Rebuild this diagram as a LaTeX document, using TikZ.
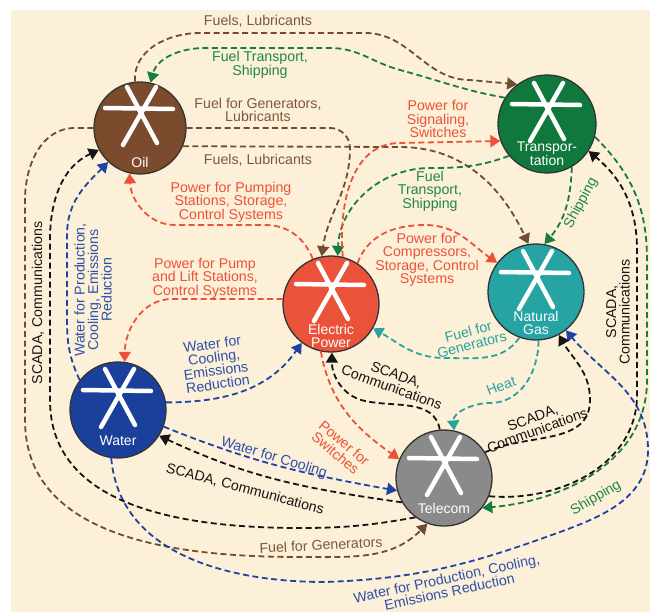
\documentclass[tikz,border=0pt]{standalone}
\usepackage{fontspec}
\setmainfont{Liberation Sans}
\usetikzlibrary{arrows.meta}
\definecolor{cream}{RGB}{253,240,216}
\definecolor{oilC}{RGB}{124,74,45}
\definecolor{trnC}{RGB}{16,120,60}
\definecolor{epC}{RGB}{234,82,58}
\definecolor{ngC}{RGB}{38,163,163}
\definecolor{watC}{RGB}{26,64,155}
\definecolor{telC}{RGB}{138,138,138}
\definecolor{brL}{RGB}{112,76,50}
\definecolor{brT}{RGB}{125,88,60}
\definecolor{grL}{RGB}{22,125,62}
\definecolor{grT}{RGB}{32,135,75}
\definecolor{rdL}{RGB}{236,82,56}
\definecolor{tlL}{RGB}{40,163,158}
\definecolor{blL}{RGB}{30,66,165}
\definecolor{blT}{RGB}{45,80,170}
\definecolor{bkL}{RGB}{20,20,20}

\newcommand\hubstar[1]{%
  \draw[starln] ([shift={(-13,41)}]#1.center) -- ([shift={(17,-15)}]#1.center);
  \draw[starln] ([shift={(16,41)}]#1.center) -- ([shift={(-17,-17)}]#1.center);
  \draw[starln] ([shift={(-35,20)}]#1.center) -- ([shift={(33,19)}]#1.center);
}

\begin{document}
\begin{tikzpicture}[x=1pt,y=1pt,
  hub/.style={circle, draw=black!80, line width=1.3pt, inner sep=0pt, minimum size=96pt},
  starln/.style={white, line width=4.5pt, line cap=round},
  hubtxt/.style={text=white, font=\fontsize{14}{13}\selectfont, align=center, inner sep=0pt},
  lbl/.style={font=\fontsize{14.2}{13.5}\selectfont, align=center, inner sep=0pt},
  conn/.style={line width=1.8pt, dash pattern=on 6pt off 3.5pt, -{Triangle[width=12pt,length=10pt]}}
]
\useasboundingbox (0,0) rectangle (650,-613);
\fill[white] (0,0) rectangle (650,-613);
\fill[cream] (11,-10) rectangle (650,-612);

% hubs
\node (oil)   [hub, fill=oilC, minimum size=92pt] at (140,-128) {};
\node (trans) [hub, fill=trnC, minimum size=98pt] at (547,-124) {};
\node (ep)    [hub, fill=epC] at (331,-304) {};
\node (ng)    [hub, fill=ngC] at (536,-292) {};
\node (water) [hub, fill=watC] at (118,-410) {};
\node (tel)   [hub, fill=telC] at (444,-478) {};

\hubstar{oil}\hubstar{trans}\hubstar{ep}\hubstar{ng}\hubstar{water}\hubstar{tel}

\node[hubtxt] at ([yshift=-34pt]oil.center) {Oil};
\node[hubtxt] at ([yshift=-30pt]trans.center) {Transpor-\\tation};
\node[hubtxt] at ([yshift=-32pt]ep.center) {Electric\\Power};
\node[hubtxt] at ([yshift=-31pt]ng.center) {Natural\\Gas};
\node[hubtxt] at ([yshift=-31pt]water.center) {Water};
\node[hubtxt] at ([yshift=-30pt]tel.center) {Telecom};

% Oil outputs (brown)
\draw[conn, brL] (oil.96) to[out=95,in=180] (200,-33) -- (365,-33) to[out=0,in=180] (470,-80) -- (trans.127);
\draw[conn, brL] (oil.east) -- (330,-128) to[out=0,in=90] (350,-148) to[out=-90,in=82] (ep.101);
\draw[conn, brL] (oil.-23) -- (400,-147) to[out=0,in=115] (ng.99);
\draw[conn, brL] (oil.180) -- (75,-128) to[out=180,in=90] (25,-200) -- (25,-420) to[out=-90,in=180] (300,-557) to[out=0,in=225] (tel.250);

% Transportation outputs (green)
\draw[conn, grL] (trans.148) to[out=170,in=-15] (400,-70) to[out=165,in=0] (330,-48) -- (205,-48) to[out=180,in=75] (oil.77);
\draw[conn, grL] (trans.220) to[out=200,in=0] (430,-168) to[out=180,in=88] (ep.82);
\draw[conn, grL] (trans.-60) to[out=-92,in=50] (ng.80);
\draw[conn, grL] (trans.-15) to[out=-45,in=90] (647,-260) -- (647,-380) to[out=-90,in=5] (tel.-38);

% Electric power outputs (red)
\draw[conn, rdL] (ep.112) to[out=112,in=0] (265,-225) -- (175,-225) to[out=180,in=-87] (oil.257);
\draw[conn, rdL] (ep.174) -- (172,-299) to[out=180,in=90] (water.82);
\draw[conn, rdL] (ep.76) to[out=95,in=180] (400,-143) -- (trans.200);
\draw[conn, rdL] (ep.57) to[out=70,in=180] (425,-225) to[out=0,in=145] (ng.143);
\draw[conn, rdL] (ep.258) to[out=-80,in=145] (tel.157);

% Natural gas outputs (teal)
\draw[conn, tlL] (ng.250) to[out=235,in=0] (445,-358) to[out=180,in=-30] (ep.-30);
\draw[conn, tlL] (ng.273) to[out=-90,in=0] (490,-403) to[out=180,in=95] (tel.78);

% Water outputs (blue)
\draw[conn, blL] (water.9) to[out=0,in=235] (ep.233);
\draw[conn, blL] (water.142) to[out=115,in=-90] (67,-320) -- (67,-235) to[out=90,in=225] (oil.227);
\draw[conn, blL] (water.-20) to[out=-22,in=170] (tel.195);
\draw[conn, blL] (water.262) to[out=-85,in=180] (325,-582) to[out=2,in=200] (560,-532) to[out=20,in=-90] (648,-450) to[out=90,in=-50] (ng.-52);

% Telecom outputs (black)
\draw[conn, bkL] (tel.234) to[out=190,in=0] (300,-528) to[out=180,in=-90] (50,-400) -- (50,-240) to[out=90,in=205] (oil.208);
\draw[conn, bkL] (tel.210) to[out=172,in=-25] (water.-32);
\draw[conn, bkL] (tel.95) to[out=100,in=-12] (365,-401) to[out=168,in=-90] (ep.271);
\draw[conn, bkL] (tel.32) to[out=25,in=-90] (590,-400) to[out=90,in=-60] (ng.-62);
\draw[conn, bkL] (tel.-22) to[out=-5,in=-90] (637,-395) -- (637,-250) to[out=90,in=-40] (trans.-33);

% labels
\node[lbl, text=brT] (l1) at (258,-21) {Fuels, Lubricants};
\node[lbl, text=grT] (l2) at (260,-65) {Fuel Transport,\\Shipping};
\node[lbl, text=brT] (l3) at (258,-110) {Fuel for Generators,\\Lubricants};
\node[lbl, text=brT] (l4) at (258,-160) {Fuels, Lubricants};
\node[lbl, text=rdL] (l5) at (231,-202) {Power for Pumping\\Stations, Storage,\\Control Systems};
\node[lbl, text=rdL] (l6) at (438,-119) {Power for\\Signaling,\\Switches};
\node[lbl, text=grT] (l7) at (430,-191) {Fuel\\Transport,\\Shipping};
\node[lbl, text=grT, rotate=62] (l8) at (581,-203) {Shipping};
\node[lbl, text=rdL] (l9) at (427,-260) {Power for\\Compressors,\\Storage, Control\\Systems};
\node[lbl, text=rdL] (l10) at (205,-278) {Power for Pump\\and Lift Stations,\\Control Systems};
\node[lbl, text=blT, rotate=8] (l11) at (215,-364) {Water for\\Cooling,\\Emissions\\Reduction};
\node[lbl, text=blT, rotate=90] (l12) at (93,-290) {Water for Production,\\Cooling, Emissions\\Reduction};
\node[lbl, text=bkL, rotate=90] (l13) at (38,-303) {SCADA, Communications};
\node[lbl, text=bkL, rotate=90] (l14) at (618,-312) {SCADA,\\Communications};
\node[lbl, text=tlL, rotate=15] (l15) at (470,-338) {Fuel for\\Generators};
\node[lbl, text=bkL, rotate=-20] (l16) at (394,-381) {SCADA,\\Communications};
\node[lbl, text=tlL, rotate=20] (l17) at (501,-386) {Heat};
\node[lbl, text=bkL, rotate=20] (l18) at (535,-424) {SCADA,\\Communications};
\node[lbl, text=rdL, rotate=-40] (l19) at (340,-448) {Power for\\Switches};
\node[lbl, text=blT, rotate=-17] (l20) at (274,-458) {Water for Cooling};
\node[lbl, text=bkL, rotate=-15] (l21) at (245,-489) {SCADA, Communications};
\node[lbl, text=grT, rotate=30] (l22) at (596,-498) {Shipping};
\node[lbl, text=brT, rotate=3] (l23) at (321,-545) {Fuel for Generators};
\node[lbl, text=blT, rotate=12] (l24) at (448,-585) {Water for Production, Cooling,\\Emissions Reduction};
\end{tikzpicture}
\end{document}
